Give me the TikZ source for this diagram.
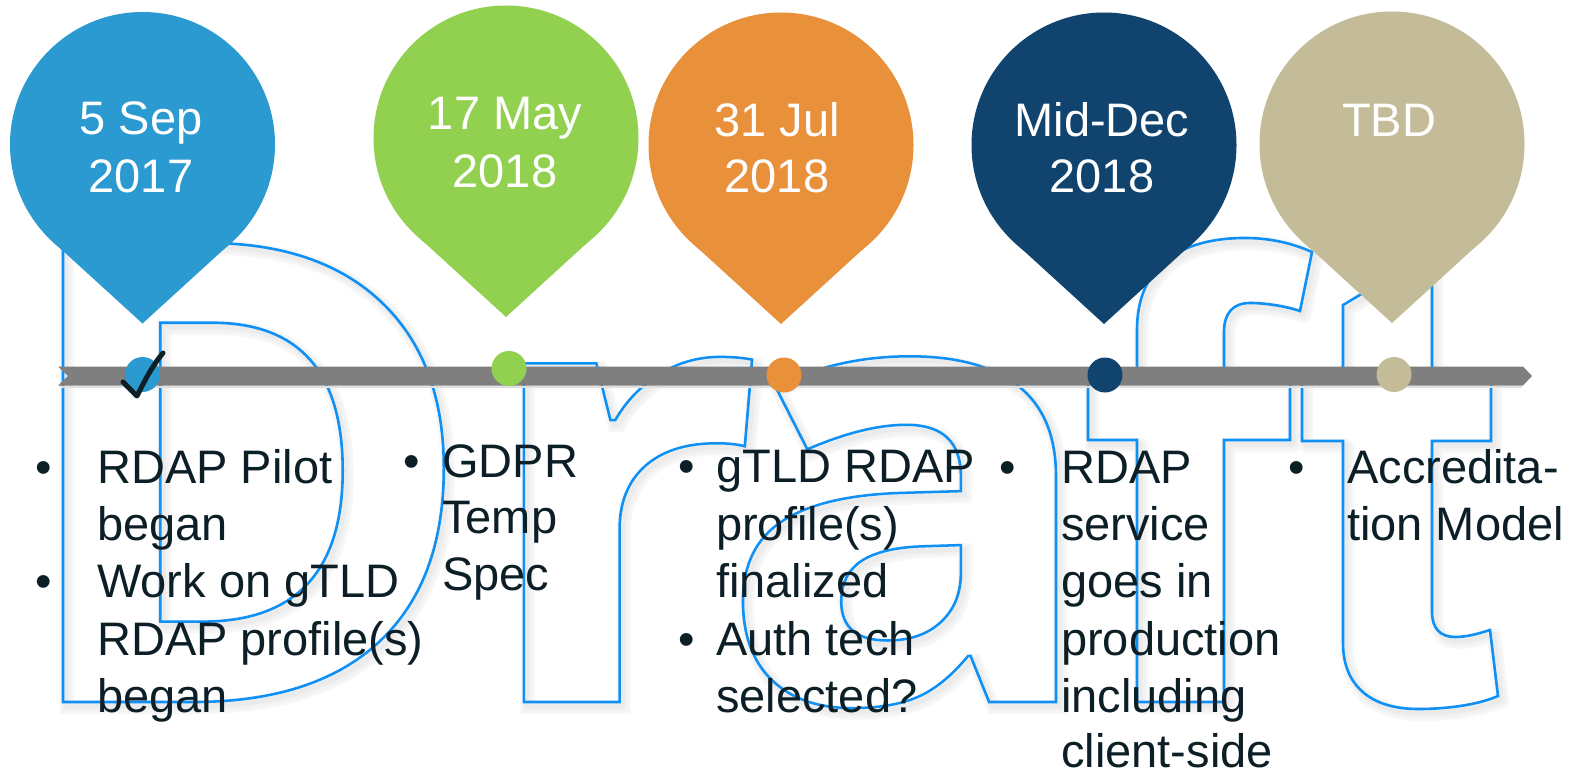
\documentclass[tikz,border=0pt]{standalone}
\usepackage{fontspec}
\setmainfont{Liberation Sans}
\newfontfamily\wmfont{Open Sans}
\definecolor{pinblue}{HTML}{2A9AD0}
\definecolor{pingreen}{HTML}{92D050}
\definecolor{pinorange}{HTML}{E9903B}
\definecolor{pinnavy}{HTML}{10436D}
\definecolor{pintan}{HTML}{C4BC98}
\definecolor{bargray}{HTML}{7F7F7F}
\definecolor{txt}{HTML}{0D1F26}
\definecolor{wmblue}{HTML}{0F90F5}
\newcommand\outlinetext[2]{\special{pdf:literal direct 1 Tr #1 w}#2\special{pdf:literal direct 0 Tr}}
% letters D, r, a of the watermark: #1 name prefix, #2 colour, #3 stroke width, #4 x, #5 y
\newcommand\draftword[5]{%
  \node[wm, text=#2] (#1D) at (#4,#5) {\outlinetext{#3}{D}};
  \node[wm, text=#2] (#1r) at ([xshift=-8]#1D.base east) {\scalebox{1}[0.965]{\outlinetext{#3}{r}}};
  \node[wm, text=#2] (#1a) at ([xshift=-50]#1r.base east) {\scalebox{1}[0.965]{\outlinetext{#3}{a}}};
}
% letters f and t of the watermark: #1 draw options, #2 shift
\newcommand\ftletters[2]{%
  \draw[#1, shift={#2}] (1137,702) -- (1137,440) -- (1088,440) -- (1088,376) -- (1137,376) -- (1137,330)
    .. controls (1137,268) and (1178,238) .. (1245,238) .. controls (1272,238) and (1294,244) .. (1312,252)
    -- (1300,311) .. controls (1285,306) and (1265,303) .. (1250,303) .. controls (1233,303) and (1224,313) .. (1224,332)
    -- (1224,376) -- (1290,376) -- (1290,440) -- (1224,440) -- (1224,702) -- cycle;
  \draw[#1, shift={#2}] (1343,643) -- (1343,441) -- (1302,441) -- (1302,376) -- (1343,376) -- (1343,305)
    -- (1405,268) -- (1432,268) -- (1432,376) -- (1491,376) -- (1491,441) -- (1432,441) -- (1432,612)
    .. controls (1432,628) and (1440,637) .. (1455,637) .. controls (1468,637) and (1480,633) .. (1490,630)
    -- (1498,696) .. controls (1480,704) and (1450,709) .. (1418,709) .. controls (1370,709) and (1343,685) .. (1343,643) -- cycle;
}
\begin{document}
\begin{tikzpicture}[x=1pt,y=-1pt,
  body/.style={font=\fontsize{47}{57}\selectfont, text=txt, inner sep=0, anchor=base west},
  bul/.style={font=\fontsize{47}{57}\selectfont, text=txt, inner sep=0, anchor=base},
  date/.style={font=\fontsize{47}{57}\selectfont, text=white, inner sep=0, anchor=base},
  wm/.style={inner sep=0, anchor=base west, font=\wmfont\bfseries\fontsize{643}{643}\selectfont}]
\useasboundingbox (0,0) rectangle (1574,773);
\fill[white] (0,0) rectangle (1574,773);
% watermark shadow and outline
\draftword{sa}{black!3}{14}{9}{707}
\draftword{sb}{black!5}{9}{9}{707}
\draftword{sc}{black!8}{5}{8}{706}
\ftletters{black!3, line width=14, line join=round}{(4,5)}
\ftletters{black!5, line width=9, line join=round}{(4,5)}
\ftletters{black!8, line width=5, line join=round}{(3,4)}
\draftword{w}{wmblue}{2.6}{5}{702}
\ftletters{wmblue, line width=2.6}{(0,0)}
% bar
\draw[black!12, line width=1.5] (60,387) -- (1522,387);
\fill[bargray] (58,366.5) -- (1523,366.5) -- (1532,376) -- (1523,385.5) -- (58,385.5) -- (68,376) -- cycle;
% dots
\foreach \x/\y/\col in {142.5/374.5/pinblue, 509/368.5/pingreen, 784/375/pinorange, 1105/375/pinnavy, 1394/374.5/pintan}
  \fill[\col] (\x,\y) circle (17.5);
% check mark
\draw[txt, line width=5, line cap=round, line join=round] (123,382) .. controls (128,387) and (133,392) .. (137,396) .. controls (144,382) and (152,366) .. (163,353);
% pins
\foreach \cx/\cy/\col in {142.5/144.5/pinblue, 506/138/pingreen, 781/145/pinorange, 1104/145/pinnavy, 1392/144/pintan}{
  \fill[\col] (\cx,\cy) circle (132.5);
  \fill[\col] (\cx,\cy+179) -- ++(89.5,-81.7) -- ++(-179,0) -- cycle;
}
% dates
\node[date] (d1a) at (141,135) {5 Sep};
\node[date] (d1b) at (141,193) {2017};
\node[date] (d2a) at (505,130) {17 May};
\node[date] (d2b) at (505,187) {2018};
\node[date] (d3a) at (777,136) {31 Jul};
\node[date] (d3b) at (777,193) {2018};
\node[date] (d4a) at (1102,136) {Mid-Dec};
\node[date] (d4b) at (1102,193) {2018};
\node[date] (d5a) at (1389,136) {TBD};
% column 1
\node[bul] (b1a) at (44,483) {•};
\node[bul] (b1b) at (44,597) {•};
\node[body] (c1a) at (97,483) {RDAP Pilot};
\node[body] (c1b) at (97,540) {began};
\node[body] (c1c) at (97,597) {Work on gTLD};
\node[body] (c1d) at (97,655) {RDAP profile(s)};
\node[body] (c1e) at (97,712) {began};
% column 2
\node[bul] (b2a) at (412,477) {•};
\node[body] (c2a) at (442,477) {GDPR};
\node[body] (c2b) at (442,533) {Temp};
\node[body] (c2c) at (442,590) {Spec};
% column 3
\node[bul] (b3a) at (687,482) {•};
\node[bul] (b3b) at (687,655) {•};
\node[body] (c3a) at (716,482) {gTLD RDAP};
\node[body] (c3b) at (716,540) {profile(s)};
\node[body] (c3c) at (716,597) {finalized};
\node[body] (c3d) at (716,655) {Auth tech};
\node[body] (c3e) at (716,712) {selected?};
% column 4
\node[bul] (b4a) at (1008,483) {•};
\node[body] (c4a) at (1061,483) {RDAP};
\node[body] (c4b) at (1061,540) {service};
\node[body] (c4c) at (1061,597) {goes in};
\node[body] (c4d) at (1061,655) {production};
\node[body] (c4e) at (1061,712) {including};
\node[body] (c4f) at (1061,767) {client-side};
% column 5
\node[bul] (b5a) at (1297,483) {•};
\node[body] (c5a) at (1347,483) {Accredita-};
\node[body] (c5b) at (1347,540) {tion Model};
\end{tikzpicture}
\end{document}
